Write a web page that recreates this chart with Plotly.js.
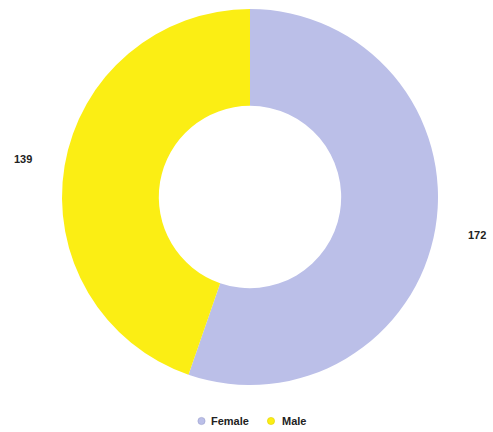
<!DOCTYPE html>
<html>
<head>
<meta charset="utf-8">
<script src="https://cdn.plot.ly/plotly-3.0.1.min.js"></script>
<style>html,body{margin:0;padding:0;background:#fff;}#chart{width:493px;height:432px;}</style>
</head>
<body>
<div id="chart"></div>
<script>
var categories = ['Female', 'Male'];
var values = [172, 139];
var colors = ['#bbbfe8', '#fbee14'];

var W = 493, H = 432;
var cx = 250, cy = 197, R = 188, labelR = 230;
var FONT = 'Liberation Sans, Arial, sans-serif';

var total = values.reduce(function(a, b){ return a + b; }, 0);
var annotations = [];
var shapes = [];
var cum = 0;
values.forEach(function(v, i){
  var th = (cum + v / 2) / total * 2 * Math.PI;
  cum += v;
  var xp = cx + labelR * Math.sin(th);
  var yp = cy - labelR * Math.cos(th);
  annotations.push({
    x: xp / W, y: 1 - yp / H, xref: 'paper', yref: 'paper',
    xanchor: 'center', yanchor: 'middle',
    text: '<b>' + v + '</b>', showarrow: false,
    font: {family: FONT, size: 11, color: '#222'}
  });
});

// legend (circle markers with labels, laid out below the donut)
var legendY = 421;
var legendMarkX = [201.5, 271];
var legendTextX = [209, 280];
categories.forEach(function(c, i){
  shapes.push({
    type: 'circle', xref: 'paper', yref: 'paper',
    xsizemode: 'pixel', ysizemode: 'pixel',
    xanchor: legendMarkX[i] / W, yanchor: 1 - legendY / H,
    x0: -3.6, x1: 3.6, y0: -3.6, y1: 3.6,
    fillcolor: colors[i], line: {width: 0.6, color: i === 0 ? '#9a9fcc' : '#e0d000'}
  });
  annotations.push({
    x: legendTextX[i] / W, y: 1 - legendY / H, xref: 'paper', yref: 'paper',
    xanchor: 'left', yanchor: 'middle', showarrow: false,
    text: '<b>' + c + '</b>',
    font: {family: FONT, size: 11, color: '#222'}
  });
});

var traces = [{
  type: 'pie',
  labels: categories,
  values: values,
  hole: 0.485,
  sort: false,
  direction: 'clockwise',
  rotation: 0,
  textinfo: 'none',
  hoverinfo: 'label+value',
  marker: {colors: colors, line: {width: 0}},
  showlegend: false,
  domain: {x: [(cx - R) / W, (cx + R) / W], y: [1 - (cy + R) / H, 1 - (cy - R) / H]}
}];

var layout = {
  width: W, height: H,
  margin: {l: 0, r: 0, t: 0, b: 0},
  paper_bgcolor: '#ffffff', plot_bgcolor: '#ffffff',
  showlegend: false,
  annotations: annotations,
  shapes: shapes
};
Plotly.newPlot('chart', traces, layout, {displayModeBar: false, staticPlot: true});
</script>
</body>
</html>
